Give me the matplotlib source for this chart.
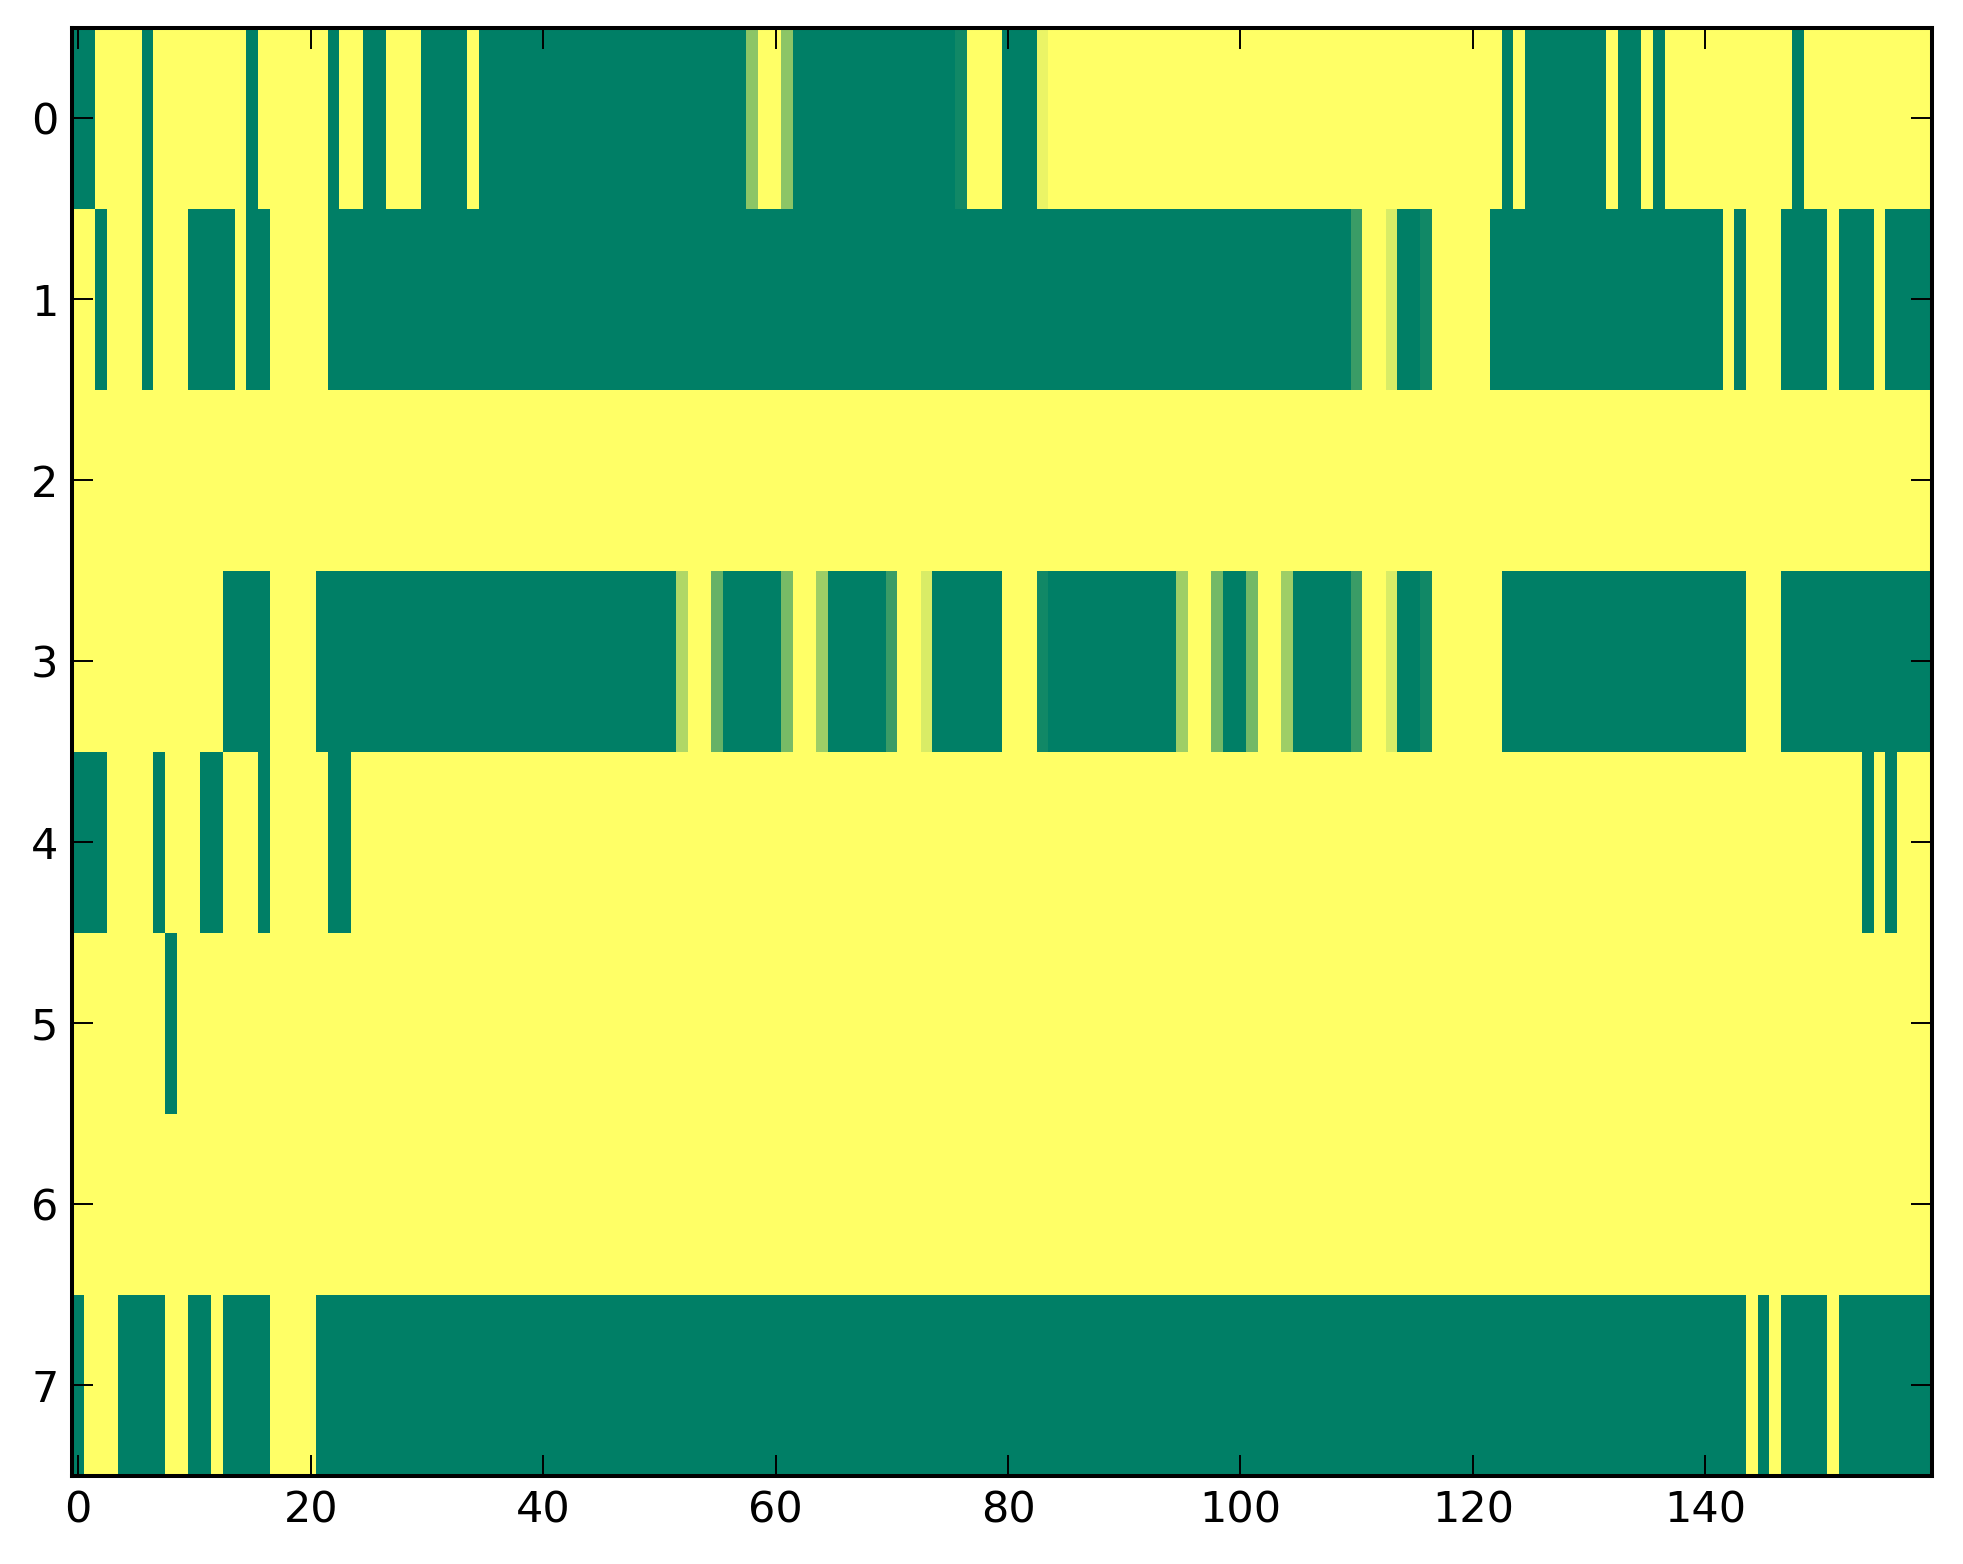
#!/usr/bin/env python3
"""Binary-ish state map, 8 rows x 160 columns, summer colormap."""

import matplotlib
matplotlib.use("Agg")
import matplotlib.pyplot as plt
import numpy as np

# one list per row, 20 values per line (0 = green, 1 = yellow)
row0 = [0, 0, 1, 1, 1, 1, 0, 1, 1, 1, 1, 1, 1, 1, 1, 0, 1, 1, 1, 1,
        1, 1, 0, 1, 1, 0, 0, 1, 1, 1, 0, 0, 0, 0, 1, 0, 0, 0, 0, 0,
        0, 0, 0, 0, 0, 0, 0, 0, 0, 0, 0, 0, 0, 0, 0, 0, 0, 0, 0.55, 1,
        1, 0.55, 0, 0, 0, 0, 0, 0, 0, 0, 0, 0, 0, 0, 0, 0, 0.07, 1, 1, 1,
        0, 0, 0, 0.92, 1, 1, 1, 1, 1, 1, 1, 1, 1, 1, 1, 1, 1, 1, 1, 1,
        1, 1, 1, 1, 1, 1, 1, 1, 1, 1, 1, 1, 1, 1, 1, 1, 1, 1, 1, 1,
        1, 1, 1, 0, 1, 0, 0, 0, 0, 0, 0, 0, 1, 0, 0, 1, 0, 1, 1, 1,
        1, 1, 1, 1, 1, 1, 1, 1, 0, 1, 1, 1, 1, 1, 1, 1, 1, 1, 1, 1]

row1 = [1, 1, 0, 1, 1, 1, 0, 1, 1, 1, 0, 0, 0, 0, 1, 0, 0, 1, 1, 1,
        1, 1, 0, 0, 0, 0, 0, 0, 0, 0, 0, 0, 0, 0, 0, 0, 0, 0, 0, 0,
        0, 0, 0, 0, 0, 0, 0, 0, 0, 0, 0, 0, 0, 0, 0, 0, 0, 0, 0, 0,
        0, 0, 0, 0, 0, 0, 0, 0, 0, 0, 0, 0, 0, 0, 0, 0, 0, 0, 0, 0,
        0, 0, 0, 0, 0, 0, 0, 0, 0, 0, 0, 0, 0, 0, 0, 0, 0, 0, 0, 0,
        0, 0, 0, 0, 0, 0, 0, 0, 0, 0, 0.23, 1, 1, 0.85, 0, 0, 0.07, 1, 1, 1,
        1, 1, 0, 0, 0, 0, 0, 0, 0, 0, 0, 0, 0, 0, 0, 0, 0, 0, 0, 0,
        0, 0, 1, 0, 1, 1, 1, 0, 0, 0, 0, 1, 0, 0, 0, 1, 0, 0, 0, 0]

row2 = [1, 1, 1, 1, 1, 1, 1, 1, 1, 1, 1, 1, 1, 1, 1, 1, 1, 1, 1, 1,
        1, 1, 1, 1, 1, 1, 1, 1, 1, 1, 1, 1, 1, 1, 1, 1, 1, 1, 1, 1,
        1, 1, 1, 1, 1, 1, 1, 1, 1, 1, 1, 1, 1, 1, 1, 1, 1, 1, 1, 1,
        1, 1, 1, 1, 1, 1, 1, 1, 1, 1, 1, 1, 1, 1, 1, 1, 1, 1, 1, 1,
        1, 1, 1, 1, 1, 1, 1, 1, 1, 1, 1, 1, 1, 1, 1, 1, 1, 1, 1, 1,
        1, 1, 1, 1, 1, 1, 1, 1, 1, 1, 1, 1, 1, 1, 1, 1, 1, 1, 1, 1,
        1, 1, 1, 1, 1, 1, 1, 1, 1, 1, 1, 1, 1, 1, 1, 1, 1, 1, 1, 1,
        1, 1, 1, 1, 1, 1, 1, 1, 1, 1, 1, 1, 1, 1, 1, 1, 1, 1, 1, 1]

row3 = [1, 1, 1, 1, 1, 1, 1, 1, 1, 1, 1, 1, 1, 0, 0, 0, 0, 1, 1, 1,
        1, 0, 0, 0, 0, 0, 0, 0, 0, 0, 0, 0, 0, 0, 0, 0, 0, 0, 0, 0,
        0, 0, 0, 0, 0, 0, 0, 0, 0, 0, 0, 0, 0.69, 1, 1, 0.40, 0, 0, 0, 0,
        0, 0.47, 1, 1, 0.62, 0, 0, 0, 0, 0, 0.23, 1, 1, 0.85, 0, 0, 0, 0, 0, 0,
        1, 1, 1, 0.07, 0, 0, 0, 0, 0, 0, 0, 0, 0, 0, 0, 0.62, 1, 1, 0.45, 0,
        0, 0.45, 1, 1, 0.62, 0, 0, 0, 0, 0, 0.23, 1, 1, 0.85, 0, 0, 0.07, 1, 1, 1,
        1, 1, 1, 0, 0, 0, 0, 0, 0, 0, 0, 0, 0, 0, 0, 0, 0, 0, 0, 0,
        0, 0, 0, 0, 1, 1, 1, 0, 0, 0, 0, 0, 0, 0, 0, 0, 0, 0, 0, 0]

row4 = [0, 0, 0, 1, 1, 1, 1, 0, 1, 1, 1, 0, 0, 1, 1, 1, 0, 1, 1, 1,
        1, 1, 0, 0, 1, 1, 1, 1, 1, 1, 1, 1, 1, 1, 1, 1, 1, 1, 1, 1,
        1, 1, 1, 1, 1, 1, 1, 1, 1, 1, 1, 1, 1, 1, 1, 1, 1, 1, 1, 1,
        1, 1, 1, 1, 1, 1, 1, 1, 1, 1, 1, 1, 1, 1, 1, 1, 1, 1, 1, 1,
        1, 1, 1, 1, 1, 1, 1, 1, 1, 1, 1, 1, 1, 1, 1, 1, 1, 1, 1, 1,
        1, 1, 1, 1, 1, 1, 1, 1, 1, 1, 1, 1, 1, 1, 1, 1, 1, 1, 1, 1,
        1, 1, 1, 1, 1, 1, 1, 1, 1, 1, 1, 1, 1, 1, 1, 1, 1, 1, 1, 1,
        1, 1, 1, 1, 1, 1, 1, 1, 1, 1, 1, 1, 1, 1, 0, 1, 0, 1, 1, 1]

row5 = [1, 1, 1, 1, 1, 1, 1, 1, 0, 1, 1, 1, 1, 1, 1, 1, 1, 1, 1, 1,
        1, 1, 1, 1, 1, 1, 1, 1, 1, 1, 1, 1, 1, 1, 1, 1, 1, 1, 1, 1,
        1, 1, 1, 1, 1, 1, 1, 1, 1, 1, 1, 1, 1, 1, 1, 1, 1, 1, 1, 1,
        1, 1, 1, 1, 1, 1, 1, 1, 1, 1, 1, 1, 1, 1, 1, 1, 1, 1, 1, 1,
        1, 1, 1, 1, 1, 1, 1, 1, 1, 1, 1, 1, 1, 1, 1, 1, 1, 1, 1, 1,
        1, 1, 1, 1, 1, 1, 1, 1, 1, 1, 1, 1, 1, 1, 1, 1, 1, 1, 1, 1,
        1, 1, 1, 1, 1, 1, 1, 1, 1, 1, 1, 1, 1, 1, 1, 1, 1, 1, 1, 1,
        1, 1, 1, 1, 1, 1, 1, 1, 1, 1, 1, 1, 1, 1, 1, 1, 1, 1, 1, 1]

row6 = [1, 1, 1, 1, 1, 1, 1, 1, 1, 1, 1, 1, 1, 1, 1, 1, 1, 1, 1, 1,
        1, 1, 1, 1, 1, 1, 1, 1, 1, 1, 1, 1, 1, 1, 1, 1, 1, 1, 1, 1,
        1, 1, 1, 1, 1, 1, 1, 1, 1, 1, 1, 1, 1, 1, 1, 1, 1, 1, 1, 1,
        1, 1, 1, 1, 1, 1, 1, 1, 1, 1, 1, 1, 1, 1, 1, 1, 1, 1, 1, 1,
        1, 1, 1, 1, 1, 1, 1, 1, 1, 1, 1, 1, 1, 1, 1, 1, 1, 1, 1, 1,
        1, 1, 1, 1, 1, 1, 1, 1, 1, 1, 1, 1, 1, 1, 1, 1, 1, 1, 1, 1,
        1, 1, 1, 1, 1, 1, 1, 1, 1, 1, 1, 1, 1, 1, 1, 1, 1, 1, 1, 1,
        1, 1, 1, 1, 1, 1, 1, 1, 1, 1, 1, 1, 1, 1, 1, 1, 1, 1, 1, 1]

row7 = [0, 1, 1, 1, 0, 0, 0, 0, 1, 1, 0, 0, 1, 0, 0, 0, 0, 1, 1, 1,
        1, 0, 0, 0, 0, 0, 0, 0, 0, 0, 0, 0, 0, 0, 0, 0, 0, 0, 0, 0,
        0, 0, 0, 0, 0, 0, 0, 0, 0, 0, 0, 0, 0, 0, 0, 0, 0, 0, 0, 0,
        0, 0, 0, 0, 0, 0, 0, 0, 0, 0, 0, 0, 0, 0, 0, 0, 0, 0, 0, 0,
        0, 0, 0, 0, 0, 0, 0, 0, 0, 0, 0, 0, 0, 0, 0, 0, 0, 0, 0, 0,
        0, 0, 0, 0, 0, 0, 0, 0, 0, 0, 0, 0, 0, 0, 0, 0, 0, 0, 0, 0,
        0, 0, 0, 0, 0, 0, 0, 0, 0, 0, 0, 0, 0, 0, 0, 0, 0, 0, 0, 0,
        0, 0, 0, 0, 1, 0, 1, 0, 0, 0, 0, 1, 0, 0, 0, 0, 0, 0, 0, 0]

x_ticks = [0, 20, 40, 60, 80, 100, 120, 140]
y_ticks = [0, 1, 2, 3, 4, 5, 6, 7]


def main():
    rows = [row0, row1, row2, row3, row4, row5, row6, row7]
    for r in rows:
        assert len(r) == 160
    grid = np.array(rows, dtype=float)

    fig = plt.figure(figsize=(19.63, 15.64), dpi=100)
    ax = fig.add_axes([0.0369, 0.0563, 0.9473, 0.9258])
    ax.imshow(grid, cmap="summer", vmin=0, vmax=1, aspect="auto",
              interpolation="nearest")

    ax.set_xticks(x_ticks)
    ax.set_yticks(y_ticks)
    ax.tick_params(axis="both", direction="in", length=15, width=1.4,
                   labelsize=31, top=True, right=True, pad=10)
    for sp in ax.spines.values():
        sp.set_linewidth(2.9)

    fig.savefig("out.png", dpi=100)
    plt.close(fig)


if __name__ == "__main__":
    main()
